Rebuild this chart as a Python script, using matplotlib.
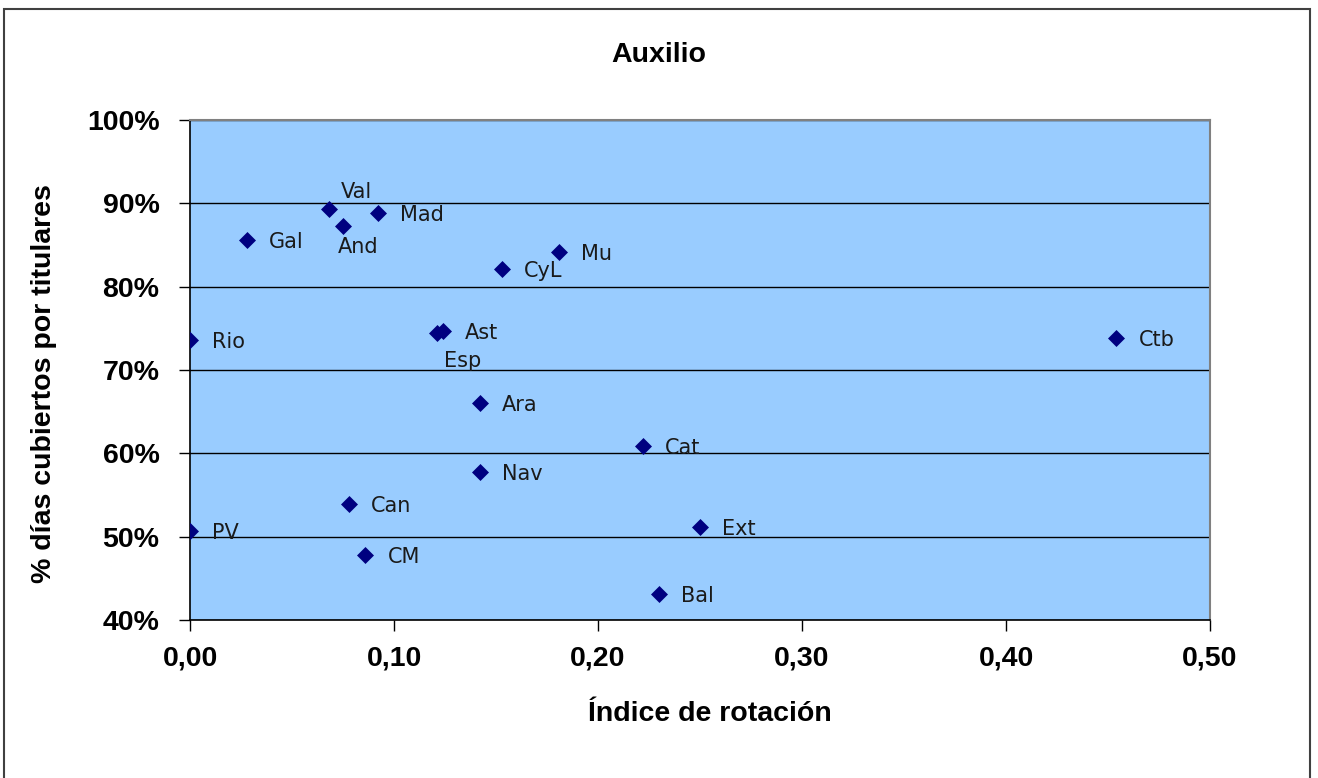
import matplotlib
matplotlib.use("Agg")
import matplotlib.pyplot as plt
from matplotlib.patches import Rectangle
from matplotlib.ticker import FuncFormatter, MultipleLocator

# Datos
regiones = ["Val", "Mad", "And", "Gal", "Mu", "CyL", "Rio", "Esp", "Ast", "Ctb",
            "Ara", "Cat", "Nav", "Can", "PV", "Ext", "CM", "Bal"]
indice_rotacion = [0.068, 0.092, 0.075, 0.028, 0.181, 0.153, 0.0, 0.121, 0.124, 0.454,
                   0.142, 0.222, 0.142, 0.078, 0.0, 0.250, 0.086, 0.230]
pct_titulares = [0.893, 0.888, 0.873, 0.856, 0.842, 0.821, 0.736, 0.744, 0.747, 0.738,
                 0.660, 0.609, 0.578, 0.539, 0.507, 0.512, 0.478, 0.431]

# desplazamiento de etiquetas (puntos) para las que no van a la derecha
offsets = {"Val": (9, 12, "left"), "And": (-4, -15, "left"), "Esp": (5, -20, "left")}

plt.rcParams['font.family'] = ['Liberation Sans', 'DejaVu Sans']

fig = plt.figure(figsize=(13.18, 7.78), dpi=100)
ax = fig.add_axes([190 / 1318, 1 - 620 / 778, 1020 / 1318, 500 / 778])
ax.set_facecolor("#99CCFF")

ax.scatter(indice_rotacion, pct_titulares, marker="D", s=75, color="#000080", zorder=3,
           linewidths=0)

for nombre, x, y in zip(regiones, indice_rotacion, pct_titulares):
    dx, dy, ha = offsets.get(nombre, (16, -1.5, "left"))
    ax.annotate(nombre, (x, y), xytext=(dx, dy), textcoords="offset points",
                ha=ha, va="center", fontsize=15, family="DejaVu Sans", color="#1a1a1a",
                zorder=4)

ax.set_xlim(0, 0.5)
ax.set_ylim(0.4, 1.0)
ax.xaxis.set_major_locator(MultipleLocator(0.1))
ax.yaxis.set_major_locator(MultipleLocator(0.1))
ax.xaxis.set_major_formatter(FuncFormatter(lambda v, p: f"{v:.2f}".replace(".", ",")))
ax.yaxis.set_major_formatter(FuncFormatter(lambda v, p: f"{v * 100:.0f}%"))
ax.grid(axis="y", color="black", linewidth=1)
ax.set_axisbelow(True)

ax.tick_params(axis="y", direction="out", length=8, width=1, pad=14, labelsize=20.5)
ax.tick_params(axis="x", direction="out", length=8, width=1, pad=10, labelsize=20.5)
for lab in ax.get_xticklabels() + ax.get_yticklabels():
    lab.set_fontweight("bold")

for s in ["top", "right"]:
    ax.spines[s].set_color("#808080")
    ax.spines[s].set_linewidth(1.5)
for s in ["left", "bottom"]:
    ax.spines[s].set_color("black")
    ax.spines[s].set_linewidth(1.2)

fig.text(659 / 1318, 1 - 55 / 778, "Auxilio", ha="center", va="center",
         fontsize=20.5, fontweight="bold")
fig.text(710 / 1318, 1 - 714 / 778, "Índice de rotación", ha="center", va="center",
         fontsize=20.5, fontweight="bold")
fig.text(44 / 1318, 1 - 384 / 778, "% días cubiertos por titulares", ha="center",
         va="center", rotation=90, fontsize=20.5, fontweight="bold")

# marco exterior del grafico
fig.patches.append(Rectangle((4 / 1318, -0.02), 1306 / 1318, 1.02 - 9 / 778,
                             transform=fig.transFigure, fill=False,
                             edgecolor="#404040", linewidth=1.5))

fig.savefig("out.png", dpi=100, facecolor="white")
